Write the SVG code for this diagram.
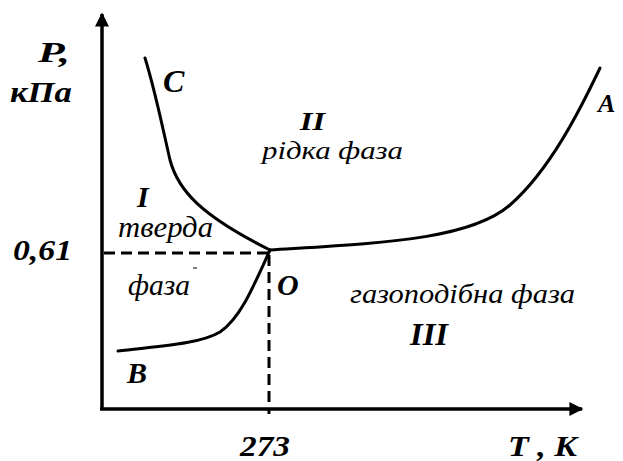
<svg xmlns="http://www.w3.org/2000/svg" width="623" height="461" viewBox="0 0 623 461">
<style>
text{font-family:'Liberation Serif','DejaVu Serif','Times New Roman',serif;fill:#000}
.lb{font-weight:bold;font-style:italic}
.ph{font-style:italic}
.ax{stroke:#000;stroke-width:3.5;fill:none}
.cv{stroke:#000;stroke-width:3;fill:none;stroke-linecap:round}
.ds{stroke:#000;stroke-width:3;fill:none;stroke-dasharray:11 6}
</style>
<defs>
<marker id="arr" viewBox="0 0 10 10" refX="9" refY="5" markerWidth="5" markerHeight="4" orient="auto" markerUnits="strokeWidth">
<path d="M0,0 L10,5 L0,10 z" fill="#000"/>
</marker>
</defs>
<rect width="623" height="461" fill="#fff"/>
<g id="connectors">
<line class="ax" x1="102" y1="410" x2="102" y2="14" marker-end="url(#arr)"/>
<line class="ax" x1="100" y1="409" x2="582" y2="409" marker-end="url(#arr)"/>
<line class="ds" x1="104" y1="253" x2="268" y2="253"/>
<line class="ds" x1="269" y1="255" x2="269" y2="414"/>
<path id="curve-OC" class="cv" d="M145,58 C155,90 162,125 170,160 C178,190 200,215 270,250"/>
<path id="curve-OB" class="cv" d="M118,351 C160,346 200,344 220,332 C240,318 252,290 270,250"/>
<path id="curve-OA" class="cv" d="M270,250 C380,243 470,240 510,205 C550,170 580,110 600,68"/>
</g>
<g id="axis-labels">
<text class="lb" x="38" y="62" font-size="30" textLength="32" lengthAdjust="spacingAndGlyphs">P,</text>
<text class="lb" x="10" y="102" font-size="30" textLength="62" lengthAdjust="spacingAndGlyphs">кПа</text>
<text class="lb" x="13" y="260" font-size="30" textLength="59" lengthAdjust="spacingAndGlyphs">0,61</text>
<text class="lb" x="240" y="456" font-size="30" textLength="50" lengthAdjust="spacingAndGlyphs">273</text>
<text class="lb" x="508" y="456" font-size="30" textLength="69" lengthAdjust="spacingAndGlyphs">T , K</text>
</g>
<g id="point-labels">
<text class="lb" x="163" y="92" font-size="32">C</text>
<text class="lb" x="598" y="112" font-size="26">A</text>
<text class="lb" x="127" y="383" font-size="30">B</text>
<text class="lb" x="277" y="295" font-size="30">O</text>
</g>
<g id="phase-I">
<text class="lb" x="137" y="207" font-size="30">I</text>
<text class="ph" x="118" y="237" font-size="29" textLength="95" lengthAdjust="spacingAndGlyphs">тверда</text>
<text class="ph" x="128" y="295" font-size="29" textLength="62" lengthAdjust="spacingAndGlyphs">фаза</text>
<line x1="193" y1="268" x2="197" y2="268" stroke="#000" stroke-width="1"/>
</g>
<g id="phase-II">
<text class="lb" x="300" y="130" font-size="26" textLength="25" lengthAdjust="spacingAndGlyphs">II</text>
<text class="ph" x="262" y="159" font-size="26" textLength="141" lengthAdjust="spacingAndGlyphs">рідка фаза</text>
</g>
<g id="phase-III">
<text class="ph" x="350" y="303" font-size="28" textLength="225" lengthAdjust="spacingAndGlyphs">газоподібна фаза</text>
<text class="lb" x="410" y="345" font-size="31" textLength="38" lengthAdjust="spacingAndGlyphs">III</text>
</g>
</svg>
